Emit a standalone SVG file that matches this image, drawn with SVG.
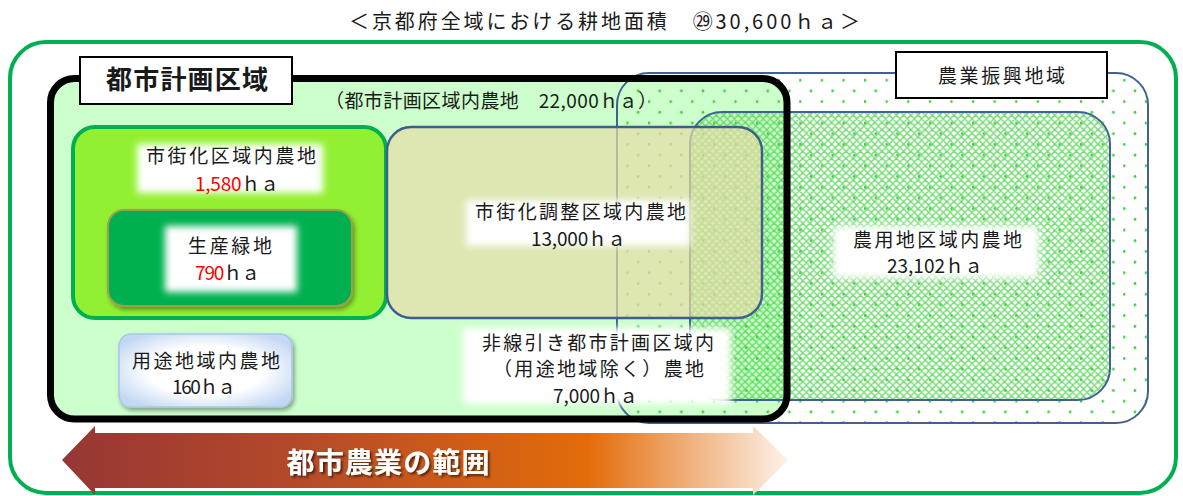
<svg xmlns="http://www.w3.org/2000/svg" width="1183" height="496" viewBox="0 0 1183 496">
<style>
text{font-family:"Noto Sans CJK JP","Noto Sans",sans-serif;fill:#1a1a1a;}
.t19{font-size:19px;text-anchor:middle;}
.red{fill:#FF0000;}
.glow{fill:#ffffff;filter:url(#blur);}
</style>
<defs>
<filter id="blur" x="-20%" y="-40%" width="140%" height="180%"><feGaussianBlur stdDeviation="3.5"/></filter>
<filter id="shadow" x="-10%" y="-10%" width="130%" height="140%"><feDropShadow dx="2" dy="3" stdDeviation="2" flood-color="#000" flood-opacity="0.35"/></filter>
<filter id="tshadow" x="-10%" y="-20%" width="130%" height="150%"><feDropShadow dx="2" dy="2" stdDeviation="1" flood-color="#000" flood-opacity="0.55"/></filter>
<pattern id="dots" width="21.6" height="21.4" patternUnits="userSpaceOnUse">
<circle cx="1" cy="16" r="1.4" fill="#3DCF3D"/>
<circle cx="11.8" cy="5.3" r="1.4" fill="#3DCF3D"/>
</pattern>
<pattern id="hatch" width="7.2" height="7.2" patternUnits="userSpaceOnUse">
<path d="M0,3.6 L3.6,0 L7.2,3.6 L3.6,7.2 Z" fill="none" stroke="#45D045" stroke-width="1.5" stroke-opacity="0.72"/>
</pattern>
<radialGradient id="youtoGrad" cx="50%" cy="50%" r="60%">
<stop offset="0.55" stop-color="#FFFFFF"/>
<stop offset="1" stop-color="#C4D8F3"/>
</radialGradient>
<linearGradient id="arrowGrad" x1="62" y1="0" x2="788" y2="0" gradientUnits="userSpaceOnUse">
<stop offset="0" stop-color="#963735"/>
<stop offset="0.33" stop-color="#B54A29"/>
<stop offset="0.725" stop-color="#E36C0A"/>
<stop offset="1" stop-color="#FDF2EA"/>
</linearGradient>
</defs>

<g id="kyoto-prefecture">
<rect x="10" y="42" width="1166" height="451" rx="36" fill="#FFFFFF" stroke="#00B050" stroke-width="4"/>
<text x="604.5" y="29" font-size="20" text-anchor="middle" textLength="511">＜京都府全域における耕地面積　㉙30,600ｈａ＞</text>
</g>

<g id="toshi-keikaku-area">
<rect x="50.5" y="78.5" width="736.5" height="340.5" rx="24" fill="#CCFFCC"/>
</g>

<g id="shigaika-kuiki">
<rect x="73" y="127" width="313" height="191" rx="22" fill="#92F032" stroke="#00B050" stroke-width="4"/>
<rect class="glow" x="137" y="144" width="186" height="49"/>
<text class="t19" x="231" y="163" textLength="170">市街化区域内農地</text>
<text class="t19" x="237" y="191" textLength="84"><tspan class="red">1,580</tspan>ｈａ</text>
</g>

<g id="seisan-ryokuchi">
<rect x="108" y="210" width="244" height="96" rx="16" fill="#00B050" stroke="#9AA04F" stroke-width="2" filter="url(#shadow)"/>
<rect class="glow" x="165" y="226" width="132" height="66"/>
<text class="t19" x="230" y="253" textLength="84">生産緑地</text>
<text class="t19" x="227.5" y="280" textLength="65"><tspan class="red">790</tspan>ｈａ</text>
</g>

<g id="youto-chiiki">
<rect x="119" y="334" width="173" height="73" rx="12" fill="url(#youtoGrad)" stroke="#A6C8EA" stroke-width="1.5" filter="url(#shadow)"/>
<text class="t19" x="206" y="368" textLength="148">用途地域内農地</text>
<text class="t19" x="204" y="394" textLength="64">160ｈａ</text>
</g>

<g id="nougyou-shinkou-chiiki">
<rect x="617" y="73" width="531" height="350" rx="32" fill="url(#dots)" stroke="#41618F" stroke-width="2"/>
</g>

<g id="nouyouchi-kuiki">
<rect x="690" y="112" width="420" height="288" rx="32" fill="url(#hatch)" stroke="#41618F" stroke-width="2"/>
</g>

<g id="shigaika-chousei-kuiki">
<rect x="387" y="127" width="375" height="191" rx="24" fill="#E4DDA8" fill-opacity="0.72" stroke="#3F5E8F" stroke-width="2.5"/>
<rect class="glow" x="466" y="200" width="224" height="46"/>
<text class="t19" x="580.5" y="219" textLength="211">市街化調整区域内農地</text>
<text class="t19" x="578.5" y="246" textLength="95">13,000ｈａ</text>
</g>

<g id="nouyouchi-label">
<rect class="glow" x="833" y="226" width="206" height="52"/>
<text class="t19" x="937.5" y="247" textLength="169">農用地区域内農地</text>
<text class="t19" x="935" y="273" textLength="96">23,102ｈａ</text>
</g>

<g id="senbiki-nashi">
<rect class="glow" x="463" y="328" width="268" height="76"/>
<text class="t19" x="598" y="350" textLength="232">非線引き都市計画区域内</text>
<text x="493" y="376" font-size="19" textLength="211">（用途地域除く）農地</text>
<text class="t19" x="595.5" y="403" textLength="85">7,000ｈａ</text>
</g>

<g id="toshi-keikaku-kuiki">
<rect x="50.5" y="78.5" width="736.5" height="340.5" rx="24" fill="none" stroke="#000000" stroke-width="7"/>
<rect x="80" y="57" width="212" height="47" fill="#FFFFFF" stroke="#000000" stroke-width="2"/>
<text x="187" y="89" font-size="26" font-weight="bold" text-anchor="middle" textLength="162">都市計画区域</text>
<text x="491" y="108" font-size="19" text-anchor="middle" textLength="332">（都市計画区域内農地　22,000ｈａ）</text>
</g>

<g id="nougyou-shinkou-label">
<rect x="896" y="52" width="211" height="46" fill="#FFFFFF" stroke="#000000" stroke-width="2"/>
<text class="t19" x="1001.5" y="83" textLength="127">農業振興地域</text>
</g>

<g id="toshi-nougyou-range">
<path d="M62,460 L95,426 L95,433 L753,433 L753,426 L788,460 L753,495 L753,488 L95,488 L95,495 Z" fill="url(#arrowGrad)"/>
<text x="388" y="473" font-size="28" font-weight="bold" text-anchor="middle" textLength="203" style="fill:#FFFFFF" filter="url(#tshadow)">都市農業の範囲</text>
</g>
</svg>
